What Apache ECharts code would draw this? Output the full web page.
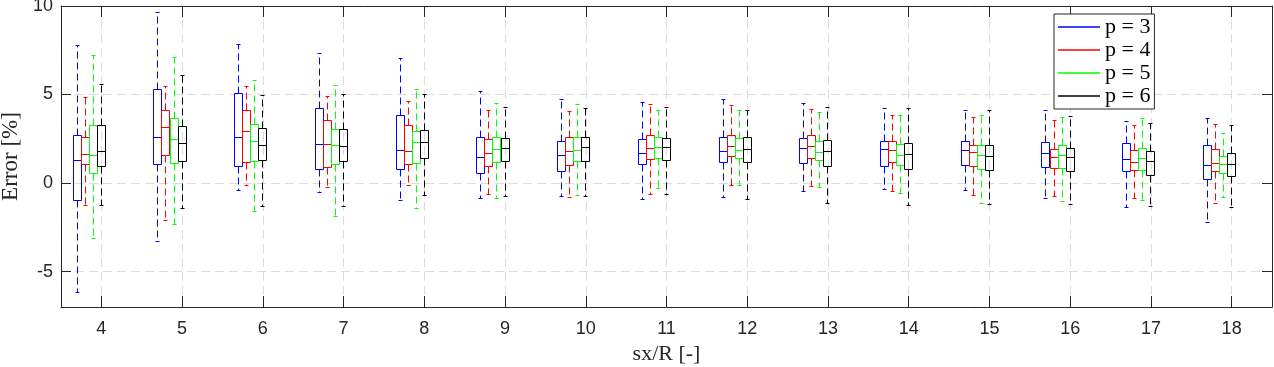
<!DOCTYPE html>
<html>
<head>
<meta charset="utf-8">
<title>Error vs sx/R</title>
<script src="https://cdn.jsdelivr.net/npm/echarts@6/dist/echarts.min.js"></script>
<style>
html, body { margin: 0; padding: 0; background: #fff; }
#chart { width: 1274px; height: 367px; }
</style>
</head>
<body>
<div id="chart"></div>
<script>
// sx/R values along the x axis
var categories = [4, 5, 6, 7, 8, 9, 10, 11, 12, 13, 14, 15, 16, 17, 18];

// one row per category: [lower whisker, q1, median, q3, upper whisker] in %
var p3 = [
  [-6.18, -0.98, 1.28, 2.69, 7.78],
  [-3.28, 1.02, 2.60, 5.29, 9.64],
  [-0.41, 0.94, 2.58, 5.03, 7.83],
  [-0.53, 0.77, 2.18, 4.20, 7.31],
  [-0.98, 0.77, 1.85, 3.82, 7.02],
  [-0.87, 0.55, 1.47, 2.58, 5.18],
  [-0.75, 0.66, 1.56, 2.35, 4.73],
  [-0.92, 1.05, 1.68, 2.47, 4.56],
  [-0.81, 1.17, 1.79, 2.58, 4.73],
  [-0.47, 1.09, 1.96, 2.52, 4.50],
  [-0.36, 0.94, 1.90, 2.35, 4.22],
  [-0.41, 1.00, 1.85, 2.35, 4.11],
  [-0.87, 0.89, 1.68, 2.30, 4.11],
  [-1.37, 0.66, 1.34, 2.24, 3.49],
  [-2.22, 0.21, 1.00, 2.13, 3.65]
];
var p4 = [
  [-1.26, 1.02, 1.62, 2.60, 4.84],
  [-2.11, 1.58, 3.15, 4.11, 5.46],
  [-0.13, 1.17, 2.92, 4.11, 5.44],
  [-0.24, 0.88, 2.18, 3.54, 4.90],
  [-0.13, 1.05, 1.79, 3.26, 4.61],
  [-0.64, 0.94, 1.68, 2.47, 4.11],
  [-0.81, 1.00, 1.77, 2.58, 4.05],
  [-0.64, 1.34, 1.96, 2.69, 4.45],
  [-0.13, 1.51, 2.07, 2.69, 4.39],
  [-0.19, 1.39, 2.07, 2.69, 4.16],
  [-0.47, 1.17, 1.85, 2.35, 3.82],
  [-0.70, 0.94, 1.73, 2.13, 3.71],
  [-0.75, 0.83, 1.45, 1.90, 3.54],
  [-0.87, 0.72, 1.17, 1.85, 3.26],
  [-1.15, 0.66, 1.11, 1.90, 3.31]
];
var p5 = [
  [-3.13, 0.55, 1.53, 3.26, 7.21],
  [-2.33, 1.11, 2.47, 3.65, 7.10],
  [-1.60, 1.22, 2.35, 3.31, 5.78],
  [-1.88, 1.05, 2.13, 3.03, 5.52],
  [-1.43, 1.11, 2.30, 2.92, 5.29],
  [-0.87, 1.17, 1.88, 2.58, 4.50],
  [-0.70, 1.22, 1.85, 2.58, 4.45],
  [-0.30, 1.39, 2.02, 2.58, 4.11],
  [-0.13, 1.39, 1.85, 2.52, 4.11],
  [-0.24, 1.28, 1.73, 2.35, 3.99],
  [-0.58, 1.00, 1.56, 2.18, 3.82],
  [-1.15, 0.77, 1.56, 2.13, 3.82],
  [-1.03, 0.83, 1.56, 2.13, 3.71],
  [-0.98, 0.72, 1.39, 1.96, 3.65],
  [-0.81, 0.55, 1.06, 1.51, 2.79]
];
var p6 = [
  [-1.26, 0.96, 1.79, 3.26, 5.56],
  [-1.43, 1.22, 2.24, 3.20, 6.06],
  [-1.32, 1.28, 2.13, 3.07, 4.95],
  [-1.32, 1.22, 2.07, 3.03, 5.01],
  [-0.70, 1.41, 2.30, 2.98, 5.01],
  [-0.75, 1.22, 1.96, 2.52, 4.28],
  [-0.75, 1.22, 2.02, 2.58, 4.22],
  [-0.64, 1.28, 2.02, 2.52, 4.28],
  [-0.92, 1.17, 1.90, 2.58, 4.11],
  [-1.15, 0.94, 1.79, 2.41, 4.28],
  [-1.26, 0.77, 1.62, 2.24, 4.22],
  [-1.20, 0.72, 1.51, 2.13, 4.11],
  [-1.20, 0.66, 1.45, 1.96, 3.77],
  [-1.32, 0.43, 1.22, 1.79, 3.37],
  [-1.37, 0.38, 1.06, 1.68, 3.26]
];

var seriesNames = ['p = 3', 'p = 4', 'p = 5', 'p = 6'];
var seriesValues = [p3, p4, p5, p6];
var seriesColors = ['#0000ff', '#ff0000', '#00ff00', '#000000'];
var yTicks = [-5, 0, 5, 10];

var chart = echarts.init(document.getElementById('chart'));

function crisp(v) {
  return Math.round(v - 0.5) + 0.5;
}

// matlab style box: dashed whiskers with short caps, solid box and median
function renderBox(params, api) {
  var x = api.value(0);
  var lo = api.coord([x, api.value(1)]);
  var q1 = api.coord([x, api.value(2)]);
  var med = api.coord([x, api.value(3)]);
  var q3 = api.coord([x, api.value(4)]);
  var hi = api.coord([x, api.value(5)]);
  var half = api.size([0.1, 0])[0] / 2;
  var cx = crisp(lo[0]);
  var left = Math.round(cx - half) + 0.5;
  var right = Math.round(cx + half) - 0.5;
  var cap = Math.round(half / 2);
  var color = api.visual('color');
  var solid = { stroke: color, lineWidth: 1, fill: null };
  var dashed = { stroke: color, lineWidth: 1, lineDash: [7, 4], fill: null };
  var yLo = crisp(lo[1]), yQ1 = crisp(q1[1]), yMed = crisp(med[1]), yQ3 = crisp(q3[1]), yHi = crisp(hi[1]);
  return {
    type: 'group',
    children: [
      { type: 'line', shape: { x1: cx, y1: yQ3, x2: cx, y2: yHi }, style: dashed },
      { type: 'line', shape: { x1: cx, y1: yQ1, x2: cx, y2: yLo }, style: dashed },
      { type: 'line', shape: { x1: cx - cap, y1: yHi, x2: cx + cap, y2: yHi }, style: solid },
      { type: 'line', shape: { x1: cx - cap, y1: yLo, x2: cx + cap, y2: yLo }, style: solid },
      { type: 'rect', shape: { x: left, y: yQ3, width: right - left, height: yQ1 - yQ3 }, style: solid },
      { type: 'line', shape: { x1: left, y1: yMed, x2: right, y2: yMed }, style: solid }
    ]
  };
}

var series = [];
for (var i = 0; i < seriesNames.length; i++) {
  var vals = seriesValues[i];
  var data = [];
  for (var k = 0; k < categories.length; k++) {
    // groups sit left of the tick, last one centred on it
    data.push([categories[k] + (i - 3) * 0.1].concat(vals[k]));
  }
  series.push({
    name: seriesNames[i],
    type: 'custom',
    renderItem: renderBox,
    itemStyle: { color: seriesColors[i] },
    encode: { x: 0, y: [1, 2, 3, 4, 5] },
    clip: false,
    data: data
  });
}

var axisColor = '#262626';

var option = {
  animation: false,
  backgroundColor: '#fff',
  grid: { left: 61, right: 2, top: 6, bottom: 60, show: false, outerBoundsMode: 'none', containLabel: false },
  legend: {
    data: seriesNames,
    orient: 'vertical',
    left: 1054,
    top: 14,
    padding: [2, 4, 2, 4],
    itemGap: 1,
    itemWidth: 42,
    itemHeight: 1.5,
    icon: 'rect',
    backgroundColor: '#fff',
    borderColor: axisColor,
    borderWidth: 1,
    borderRadius: 0,
    textStyle: { fontFamily: 'Liberation Serif', fontSize: 22, color: '#000' }
  },
  xAxis: [
    {
      type: 'value',
      min: 3.5,
      max: 18.5,
      name: 'sx/R [-]',
      nameLocation: 'middle',
      nameGap: 35,
      nameTextStyle: { fontFamily: 'Liberation Serif', fontSize: 22, color: axisColor },
      axisLine: { show: true, onZero: false, lineStyle: { color: axisColor, width: 1 } },
      axisTick: { show: true, inside: true, length: 11, customValues: categories, lineStyle: { color: axisColor } },
      axisLabel: { customValues: categories, margin: 13, fontFamily: 'Liberation Sans', fontSize: 18, color: axisColor },
      splitLine: { show: true, lineStyle: { color: '#dcdcdc', type: [9, 5], width: 1 } }
    },
    {
      type: 'value',
      position: 'top',
      min: 3.5,
      max: 18.5,
      axisLine: { show: true, onZero: false, lineStyle: { color: axisColor, width: 1 } },
      axisTick: { show: true, inside: true, length: 11, customValues: categories, lineStyle: { color: axisColor } },
      axisLabel: { show: false },
      splitLine: { show: false }
    }
  ],
  yAxis: [
    {
      type: 'value',
      min: -7,
      max: 10,
      name: 'Error [%]',
      nameLocation: 'middle',
      nameGap: 36,
      nameTextStyle: { fontFamily: 'Liberation Serif', fontSize: 23, color: axisColor },
      axisLine: { show: true, onZero: false, lineStyle: { color: axisColor, width: 1 } },
      axisTick: { show: true, inside: true, length: 10, customValues: yTicks, lineStyle: { color: axisColor } },
      axisLabel: { customValues: yTicks, margin: 8, fontFamily: 'Liberation Sans', fontSize: 18, color: axisColor },
      splitLine: { show: true, lineStyle: { color: '#dcdcdc', type: [9, 5], width: 1 } }
    },
    {
      type: 'value',
      position: 'right',
      min: -7,
      max: 10,
      axisLine: { show: true, onZero: false, lineStyle: { color: axisColor, width: 1 } },
      axisTick: { show: true, inside: true, length: 10, customValues: yTicks, lineStyle: { color: axisColor } },
      axisLabel: { show: false },
      splitLine: { show: false }
    }
  ],
  series: series
};

chart.setOption(option);
</script>
</body>
</html>
